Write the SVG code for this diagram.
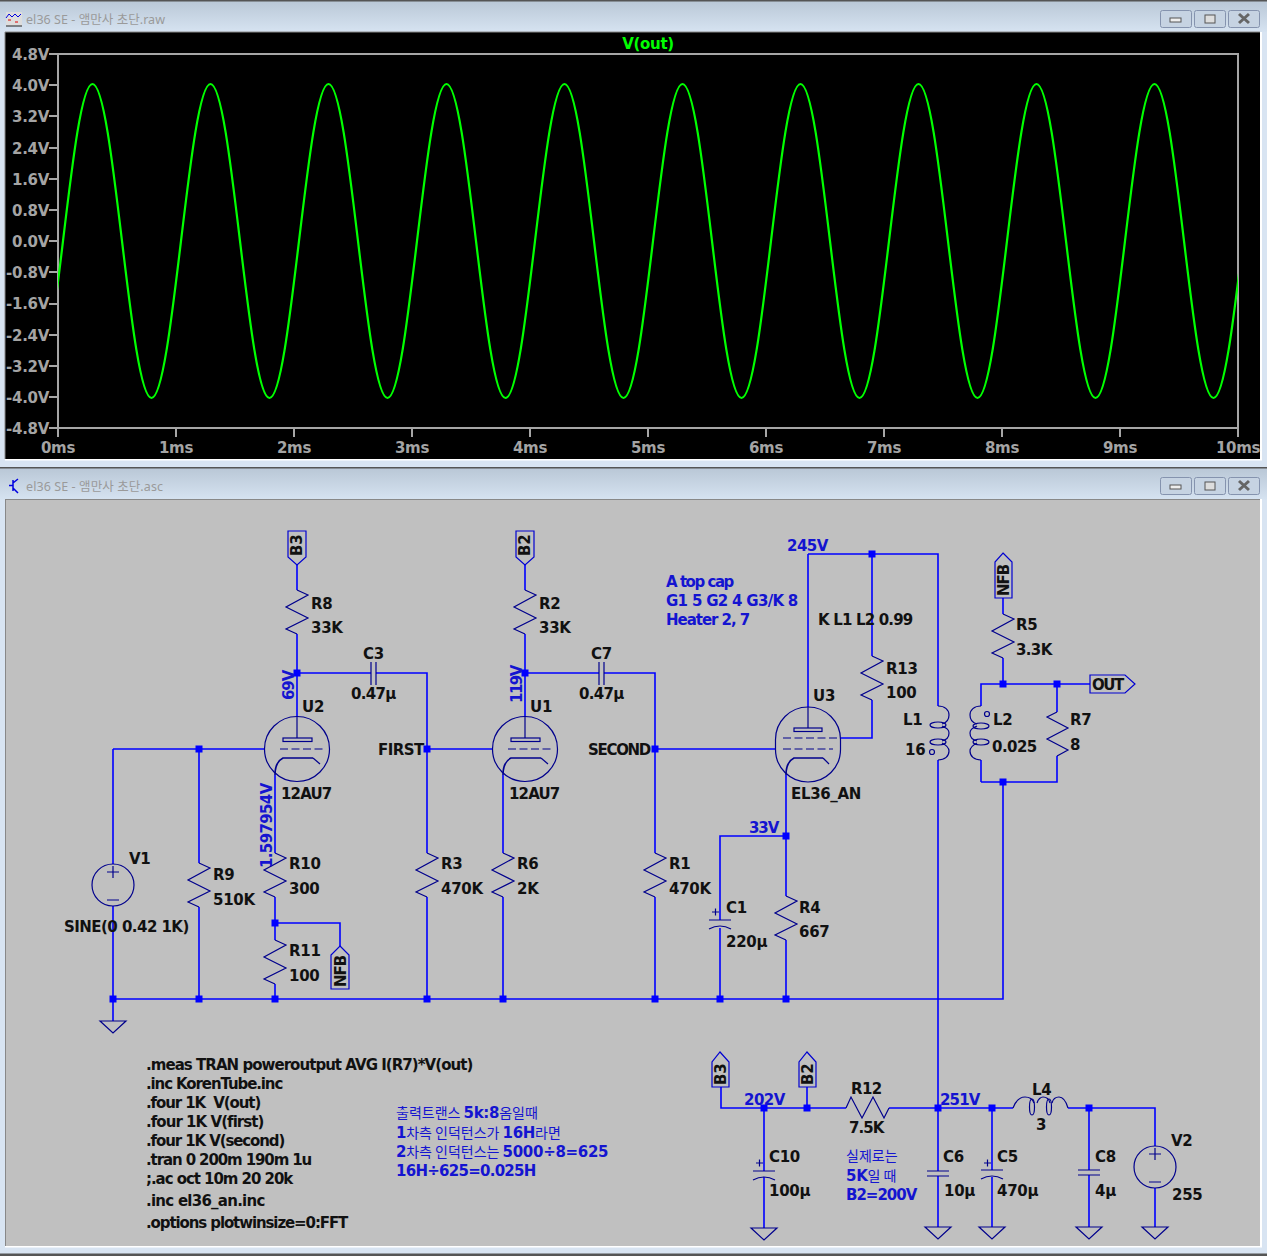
<svg xmlns="http://www.w3.org/2000/svg" width="1267" height="1256" viewBox="0 0 1267 1256">
<style>
text{font-family:"DejaVu Sans","Noto Sans CJK KR",sans-serif;font-weight:bold;font-size:15px;letter-spacing:-.3px;fill:#111;white-space:pre}
.ax{font-size:15px;fill:#a4a4a4}
.axl{text-anchor:end}
.axb{text-anchor:middle}
.ttl{font-family:"Noto Sans","Noto Sans CJK KR",sans-serif;font-weight:normal;font-size:12.5px;letter-spacing:0;fill:#9a9a9a}
.b{fill:#1414d0}
.k{font-family:"Noto Sans CJK KR",sans-serif;font-weight:normal;font-size:14px;letter-spacing:0}
.w{fill:none;stroke:#0000ff;stroke-width:1.6}
.s{fill:none;stroke:#00008c;stroke-width:1.2}
.tag{fill:none;stroke:#0000d0;stroke-width:1.2}
.f{fill:none;stroke:#00008c;stroke-width:1.6}
.d{stroke-dasharray:8 3.5}
.j{fill:#0000ff}
.grid{fill:none;stroke:#a6a6a6;stroke-width:2}
.btn{fill:#c6d3e2;stroke:#8593ae;stroke-width:1}
</style>
<defs>
<linearGradient id="bar" x1="0" y1="0" x2="0" y2="1"><stop offset="0" stop-color="#b9c7d6"/><stop offset="1" stop-color="#d6e3f1"/></linearGradient>
<clipPath id="plotclip"><rect x="58" y="54" width="1180" height="374"/></clipPath>
<path id="r" class="s" d="M0,0 L11,5 L-11,17 L11,28 L-11,39 L0,44"/>
<path id="rm" class="s" d="M0,0 L-10,5 L11,16 L-10,27 L11,38 L0,44"/>
<path id="gnd" class="s" d="M-13,0 H13 L0,12 Z"/>
<path id="pcap" class="s" d="M-11,0 H11 M-11,9 Q0,3 11,9"/>
<path id="cap" class="s" d="M-11,0 H11 M-11,5 H11"/>
<g id="src"><circle class="s" r="21"/><path class="s" d="M-6,-13 H6 M0,-19 V-7 M-6,15 H6"/></g>
<g id="tube"><circle class="s" r="32.500"/><rect class="s" x="-14" y="-11" width="29" height="3.500"/><path class="s d" d="M-17,0 H26"/><path class="s" d="M0,-32 V-11"/><path class="f" d="M-22,26 Q-22,13 -14,9 H16"/><path class="s" d="M16,9 L23,15"/></g>
<rect id="jn" class="j" x="-3.500" y="-3.500" width="7" height="7"/>
</defs>

<rect width="1267" height="1256" fill="#d8e4f2"/>
<rect width="1267" height="32" fill="url(#bar)"/>
<rect y="0" width="1267" height="1.500" fill="#555"/>
<rect y="468" width="1267" height="32" fill="url(#bar)"/>
<rect y="467" width="1267" height="1.500" fill="#555"/>
<rect y="1253.500" width="1267" height="2.500" fill="#555"/>

<g id="plot-window">
<text class="ttl" x="26" y="24" textLength="139">el36 SE - 앰만사 초단.raw</text>
<g id="plot-icon"><rect x="6" y="12" width="16" height="14" fill="#ddd"/><path d="M6,18 L9,14 L12,17 L15,14 L18,17 L21,14" fill="none" stroke="#0000e0"/><path d="M8,20 H11 M15,22 H18" stroke="#e00000"/><path d="M6,26 H22" stroke="#222"/></g>
<g id="plot-buttons">
<rect class="btn" x="1160.500" y="10.500" width="31" height="17" rx="2"/><rect x="1170" y="18" width="11" height="4" fill="#eee" stroke="#555"/>
<rect class="btn" x="1194.500" y="10.500" width="31" height="17" rx="2"/><rect x="1205" y="15" width="10" height="8" fill="#ddd" stroke="#555"/>
<rect class="btn" x="1228.500" y="10.500" width="31" height="17" rx="2"/><path d="M1239,14 L1249,23 M1249,14 L1239,23" stroke="#666" stroke-width="3"/>
</g>
<rect x="5" y="32" width="1255" height="427" fill="#000"/>
<path d="M5,32 H1260" stroke="#888" fill="none"/><path d="M5,32 V459" stroke="#888" fill="none"/>
<rect x="5" y="459" width="1257" height="1.500" fill="#fff"/>
<rect x="1260" y="32" width="2" height="428" fill="#fff"/>
<rect class="grid" x="58" y="54" width="1180" height="374"/>
<path class="grid" d="M49,54 H58 M49,85 H58 M49,116 H58 M49,148 H58 M49,179 H58 M49,210 H58 M49,241 H58 M49,272 H58 M49,304 H58 M49,335 H58 M49,366 H58 M49,397 H58 M49,428 H58 M58,428 V437 M176,428 V437 M294,428 V437 M412,428 V437 M530,428 V437 M648,428 V437 M766,428 V437 M884,428 V437 M1002,428 V437 M1120,428 V437 M1238,428 V437"/>
<g id="y-axis-labels">
<text class="ax axl" x="49" y="60">4.8V</text><text class="ax axl" x="49" y="91">4.0V</text><text class="ax axl" x="49" y="122">3.2V</text><text class="ax axl" x="49" y="154">2.4V</text><text class="ax axl" x="49" y="185">1.6V</text><text class="ax axl" x="49" y="216">0.8V</text><text class="ax axl" x="49" y="247">0.0V</text><text class="ax axl" x="49" y="278">-0.8V</text><text class="ax axl" x="49" y="309">-1.6V</text><text class="ax axl" x="49" y="341">-2.4V</text><text class="ax axl" x="49" y="372">-3.2V</text><text class="ax axl" x="49" y="403">-4.0V</text><text class="ax axl" x="49" y="434">-4.8V</text>
</g>
<g id="x-axis-labels">
<text class="ax axb" x="58" y="453">0ms</text><text class="ax axb" x="176" y="453">1ms</text><text class="ax axb" x="294" y="453">2ms</text><text class="ax axb" x="412" y="453">3ms</text><text class="ax axb" x="530" y="453">4ms</text><text class="ax axb" x="648" y="453">5ms</text><text class="ax axb" x="766" y="453">6ms</text><text class="ax axb" x="884" y="453">7ms</text><text class="ax axb" x="1002" y="453">8ms</text><text class="ax axb" x="1120" y="453">9ms</text><text class="ax axb" x="1238" y="453">10ms</text>
</g>
<text x="648" y="49" text-anchor="middle" style="fill:#00ff00">V(out)</text>
<g clip-path="url(#plotclip)">
<path id="trace" fill="none" stroke="#00ff00" stroke-width="2.200" d="M33.500,398
c10.68,0 19.88,-76.57 29.5,-157 c9.62,-80.43 18.82,-157 29.5,-157 c10.68,0 19.88,76.57 29.5,157 c9.62,80.43 18.82,157 29.5,157
c10.68,0 19.88,-76.57 29.5,-157 c9.62,-80.43 18.82,-157 29.5,-157 c10.68,0 19.88,76.57 29.5,157 c9.62,80.43 18.82,157 29.5,157
c10.68,0 19.88,-76.57 29.5,-157 c9.62,-80.43 18.82,-157 29.5,-157 c10.68,0 19.88,76.57 29.5,157 c9.62,80.43 18.82,157 29.5,157
c10.68,0 19.88,-76.57 29.5,-157 c9.62,-80.43 18.82,-157 29.5,-157 c10.68,0 19.88,76.57 29.5,157 c9.62,80.43 18.82,157 29.5,157
c10.68,0 19.88,-76.57 29.5,-157 c9.62,-80.43 18.82,-157 29.5,-157 c10.68,0 19.88,76.57 29.5,157 c9.62,80.43 18.82,157 29.5,157
c10.68,0 19.88,-76.57 29.5,-157 c9.62,-80.43 18.82,-157 29.5,-157 c10.68,0 19.88,76.57 29.5,157 c9.62,80.43 18.82,157 29.5,157
c10.68,0 19.88,-76.57 29.5,-157 c9.62,-80.43 18.82,-157 29.5,-157 c10.68,0 19.88,76.57 29.5,157 c9.62,80.43 18.82,157 29.5,157
c10.68,0 19.88,-76.57 29.5,-157 c9.62,-80.43 18.82,-157 29.5,-157 c10.68,0 19.88,76.57 29.5,157 c9.62,80.43 18.82,157 29.5,157
c10.68,0 19.88,-76.57 29.5,-157 c9.62,-80.43 18.82,-157 29.5,-157 c10.68,0 19.88,76.57 29.5,157 c9.62,80.43 18.82,157 29.5,157
c10.68,0 19.88,-76.57 29.5,-157 c9.62,-80.43 18.82,-157 29.5,-157 c10.68,0 19.88,76.57 29.5,157 c9.62,80.43 18.82,157 29.5,157
c10.68,0 19.88,-76.57 29.5,-157 c9.62,-80.43 18.82,-157 29.5,-157 c10.68,0 19.88,76.57 29.5,157 c9.62,80.43 18.82,157 29.5,157"/>
</g>
</g>

<g id="schematic-window">
<text class="ttl" x="26" y="491" textLength="137">el36 SE - 앰만사 초단.asc</text>
<path id="asc-icon" d="M13,480 V491 M9,485.500 H13 M13,483 L18,479 M13,488 L18,493" fill="none" stroke="#0000e0" stroke-width="1.500"/>
<g id="asc-buttons">
<rect class="btn" x="1160.500" y="477.500" width="31" height="17" rx="2"/><rect x="1170" y="485" width="11" height="4" fill="#eee" stroke="#555"/>
<rect class="btn" x="1194.500" y="477.500" width="31" height="17" rx="2"/><rect x="1205" y="482" width="10" height="8" fill="#ddd" stroke="#555"/>
<rect class="btn" x="1228.500" y="477.500" width="31" height="17" rx="2"/><path d="M1239,481 L1249,490 M1249,481 L1239,490" stroke="#666" stroke-width="3"/>
</g>
<rect x="5" y="499" width="1255" height="747" fill="#c0c0c0"/>
<path d="M5,499.500 H1260 M5.500,499 V1246" stroke="#888" fill="none"/>
<rect x="5" y="1246" width="1257" height="1.500" fill="#fff"/>
<rect x="1260" y="499" width="2" height="748" fill="#fff"/>
</g>

<g id="connectors">
<path class="w" d="M297,565 V590 M297,634 V717 M297,673 H371 M376,673 H427 V853 M427,897 V999"/>
<path class="w" d="M113,749 H264 M113,749 V864 M113,906 V1021 M199,749 V863 M199,907 V999"/>
<path class="w" d="M275,775 V853 M275,897 V940 M275,984 V999 M275,923 H340 V946"/>
<path class="w" d="M427,749 H492 M525,565 V590 M525,634 V717 M525,673 H599 M604,673 H655 V853 M655,897 V999 M655,749 H775"/>
<path class="w" d="M503,775 V853 M503,897 V999"/>
<path class="w" d="M113,999 H1003 V782 M981,782 H1057 V756 M981,782 V760 M981,706 V684 H1090 M1003,658 V684 M1003,598 V614 M1057,684 V712"/>
<path class="w" d="M808,554 H938 V706 M938,760 V1108 M808,554 V707 M872,554 V656 M872,700 V738 H841"/>
<path class="w" d="M786,775 V896 M786,940 V999 M786,836 H720 V920 M720,928 V999"/>
<path class="w" d="M721,1087 V1108 H846 M807,1087 V1108 M889,1108 H1013 M1068,1108 H1155 V1146 M1155,1188 V1227"/>
<path class="w" d="M764,1108 V1171 M764,1177 V1228 M938,1108 V1171 M938,1176 V1227 M992,1108 V1170 M992,1177 V1227 M1089,1108 V1170 M1089,1175 V1227"/>
<g id="junctions">
<use href="#jn" x="297" y="673"/><use href="#jn" x="525" y="673"/><use href="#jn" x="199" y="749"/><use href="#jn" x="427" y="749"/><use href="#jn" x="655" y="749"/>
<use href="#jn" x="275" y="923"/><use href="#jn" x="113" y="999"/><use href="#jn" x="199" y="999"/><use href="#jn" x="275" y="999"/><use href="#jn" x="427" y="999"/><use href="#jn" x="503" y="999"/><use href="#jn" x="655" y="999"/><use href="#jn" x="720" y="999"/><use href="#jn" x="786" y="999"/>
<use href="#jn" x="786" y="836"/><use href="#jn" x="872" y="554"/><use href="#jn" x="1003" y="684"/><use href="#jn" x="1057" y="684"/><use href="#jn" x="1003" y="782"/>
<use href="#jn" x="764" y="1108"/><use href="#jn" x="807" y="1108"/><use href="#jn" x="938" y="1108"/><use href="#jn" x="992" y="1108"/><use href="#jn" x="1089" y="1108"/>
</g>
</g>

<g id="tag-B3-top"><path class="tag" d="M288,531 H306 V557 L297,565 L288,557 Z"/><text transform="translate(302,556) rotate(-90)">B3</text></g>
<g id="tag-B2-top"><path class="tag" d="M516,531 H534 V557 L525,565 L516,557 Z"/><text transform="translate(530,556) rotate(-90)">B2</text></g>
<g id="tag-NFB-top"><path class="tag" d="M1003,553 L1012,562 V598 H995 V562 Z"/><text transform="translate(1009,596) rotate(-90)" textLength="32">NFB</text></g>
<g id="tag-NFB-low"><path class="tag" d="M340,946 L349,955 V989 H331 V955 Z"/><text transform="translate(346,987) rotate(-90)" textLength="32">NFB</text></g>
<g id="tag-B3-low"><path class="tag" d="M720,1052 L729,1062 V1087 H712 V1062 Z"/><text transform="translate(726,1085) rotate(-90)">B3</text></g>
<g id="tag-B2-low"><path class="tag" d="M807,1052 L816,1062 V1087 H799 V1062 Z"/><text transform="translate(813,1085) rotate(-90)">B2</text></g>
<g id="tag-OUT"><path class="tag" d="M1090,675 H1125 L1135,684 L1125,693 H1090 Z"/><text x="1092" y="690" textLength="32">OUT</text></g>

<g id="R8"><use href="#r" x="297" y="590"/><text x="311" y="609">R8</text><text x="311" y="633">33K</text></g>
<g id="R2"><use href="#r" x="525" y="590"/><text x="539" y="609">R2</text><text x="539" y="633">33K</text></g>
<g id="C3"><path class="s" d="M371,662 V685 M376,662 V685"/><text x="363" y="659">C3</text><text x="351" y="699" textLength="45">0.47µ</text></g>
<g id="C7"><path class="s" d="M599,662 V685 M604,662 V685"/><text x="591" y="659">C7</text><text x="579" y="699" textLength="45">0.47µ</text></g>
<g id="U2"><use href="#tube" x="297" y="749"/><text x="302" y="712">U2</text><text x="281" y="799" textLength="51">12AU7</text></g>
<g id="U1"><use href="#tube" x="525" y="749"/><text x="530" y="712">U1</text><text x="509" y="799" textLength="51">12AU7</text></g>
<g id="U3"><rect class="s" x="775.500" y="707" width="65" height="75" rx="32.500" ry="32.500"/><rect class="s" x="794" y="728" width="28" height="3.500"/><path class="s" d="M808,707 V728"/><path class="s d" d="M783,738 H841 M783,749 H833"/><path class="f" d="M786,775 Q786,762 794,758 H823"/><path class="s" d="M823,758 L829,764"/><text x="813" y="701">U3</text><text x="791" y="799" textLength="70">EL36_AN</text></g>
<g id="R13"><use href="#r" x="872" y="656"/><text x="886" y="674">R13</text><text x="886" y="698">100</text></g>
<g id="L1"><path class="s" d="M938,706 C945,706 949,710 949,715 C949,720 946,723 942,724 M942,726 C946,728 949,729 949,733 C949,738 946,740 942,741 M942,743 C946,745 949,747 949,751 C949,756 945,760 938,760"/><ellipse class="s" cx="938" cy="725" rx="8" ry="3"/><ellipse class="s" cx="938" cy="742" rx="8" ry="3"/><circle class="s" cx="932" cy="752" r="2.500"/><text x="903" y="725">L1</text><text x="905" y="755">16</text></g>
<g id="L2"><path class="s" d="M981,706 C974,706 970,710 970,715 C970,720 973,723 977,724 M977,726 C973,728 970,729 970,733 C970,738 973,740 977,741 M977,743 C973,745 970,747 970,751 C970,756 974,760 981,760"/><ellipse class="s" cx="981" cy="726" rx="8" ry="3"/><ellipse class="s" cx="981" cy="742" rx="8" ry="3"/><circle class="s" cx="987" cy="714" r="2.500"/><text x="993" y="725">L2</text><text x="992" y="752" textLength="45">0.025</text></g>
<g id="R5"><use href="#r" x="1003" y="614"/><text x="1016" y="630">R5</text><text x="1016" y="655" textLength="36">3.3K</text></g>
<g id="R7"><use href="#rm" x="1057" y="712"/><text x="1070" y="725">R7</text><text x="1070" y="750">8</text></g>
<g id="V1"><use href="#src" x="113" y="885"/><text x="129" y="864">V1</text><text x="64" y="932" textLength="125">SINE(0 0.42 1K)</text></g>
<g id="gnd1"><use href="#gnd" x="113" y="1021"/></g>
<g id="R9"><use href="#r" x="199" y="863"/><text x="213" y="880">R9</text><text x="213" y="905">510K</text></g>
<g id="R10"><use href="#r" x="275" y="853"/><text x="289" y="869">R10</text><text x="289" y="894">300</text></g>
<g id="R11"><use href="#r" x="275" y="940"/><text x="289" y="956">R11</text><text x="289" y="981">100</text></g>
<g id="R3"><use href="#r" x="427" y="853"/><text x="441" y="869">R3</text><text x="441" y="894">470K</text></g>
<g id="R6"><use href="#r" x="503" y="853"/><text x="517" y="869">R6</text><text x="517" y="894">2K</text></g>
<g id="R1"><use href="#r" x="655" y="853"/><text x="669" y="869">R1</text><text x="669" y="894">470K</text></g>
<g id="C1"><use href="#pcap" x="720" y="920"/><path class="s" d="M712,912 H719 M715.500,908.500 V915.500"/><text x="726" y="913">C1</text><text x="726" y="947">220µ</text></g>
<g id="R4"><use href="#r" x="786" y="896"/><text x="799" y="913">R4</text><text x="799" y="937">667</text></g>
<g id="R12"><path class="s" d="M846,1108 L851,1097 L862,1118 L873,1097 L884,1118 L889,1108"/><text x="851" y="1094" textLength="31">R12</text><text x="849" y="1133" textLength="35">7.5K</text></g>
<g id="C10"><use href="#pcap" x="764" y="1171"/><path class="s" d="M756,1163 H763 M759.500,1159.500 V1166.500"/><text x="769" y="1162">C10</text><text x="769" y="1196">100µ</text><use href="#gnd" x="764" y="1228"/></g>
<g id="C6"><use href="#cap" x="938" y="1171"/><text x="943" y="1162">C6</text><text x="944" y="1196">10µ</text><use href="#gnd" x="938" y="1227"/></g>
<g id="C5"><use href="#pcap" x="992" y="1170"/><path class="s" d="M984,1163 H991 M987.500,1159.500 V1166.500"/><text x="997" y="1162">C5</text><text x="997" y="1196">470µ</text><use href="#gnd" x="992" y="1227"/></g>
<g id="C8"><use href="#cap" x="1089" y="1170"/><text x="1095" y="1162">C8</text><text x="1095" y="1196">4µ</text><use href="#gnd" x="1089" y="1227"/></g>
<g id="L4"><path class="s" d="M1013,1108 C1016,1100 1020,1097 1025,1097 C1030,1097 1033,1100 1034,1103 M1037,1103 C1038,1099 1041,1097 1043,1097 C1046,1097 1049,1099 1050,1103 M1052,1103 C1053,1099 1056,1097 1059,1097 C1063,1097 1066,1101 1068,1108"/><ellipse class="s" cx="1032" cy="1107" rx="2.500" ry="8"/><ellipse class="s" cx="1049" cy="1107" rx="2.500" ry="8"/><text x="1032" y="1095">L4</text><text x="1036" y="1130">3</text></g>
<g id="V2"><use href="#src" x="1155" y="1167"/><text x="1171" y="1146">V2</text><text x="1172" y="1200">255</text><use href="#gnd" x="1155" y="1227"/></g>

<g id="net-labels">
<text class="b" transform="translate(294,700) rotate(-90)" textLength="30">69V</text>
<text class="b" transform="translate(522,703) rotate(-90)" textLength="38">119V</text>
<text class="b" transform="translate(272,868) rotate(-90)" textLength="85">1.597954V</text>
<text x="378" y="755" textLength="46">FIRST</text>
<text x="588" y="755" textLength="63">SECOND</text>
<text class="b" x="787" y="551" textLength="41">245V</text>
<text class="b" x="749" y="833" textLength="30">33V</text>
<text class="b" x="744" y="1105" textLength="41">202V</text>
<text class="b" x="940" y="1105" textLength="40">251V</text>
<text x="818" y="625" textLength="95">K L1 L2 0.99</text>
</g>
<g id="notes">
<text class="b" x="666" y="587" textLength="68">A top cap</text>
<text class="b" x="666" y="606" textLength="132">G1 5 G2 4 G3/K 8</text>
<text class="b" x="666" y="625" textLength="84">Heater 2, 7</text>
<text x="146" y="1070" textLength="327">.meas TRAN poweroutput AVG I(R7)*V(out)</text>
<text x="146" y="1089" textLength="137">.inc KorenTube.inc</text>
<text x="146" y="1108" textLength="115">.four 1K  V(out)</text>
<text x="146" y="1127" textLength="118">.four 1K V(first)</text>
<text x="146" y="1146" textLength="139">.four 1K V(second)</text>
<text x="146" y="1165" textLength="166">.tran 0 200m 190m 1u</text>
<text x="146" y="1184" textLength="147">;.ac oct 10m 20 20k</text>
<text x="146" y="1206" textLength="119">.inc el36_an.inc</text>
<text x="146" y="1228" textLength="202">.options plotwinsize=0:FFT</text>
<text class="b" x="396" y="1118"><tspan class="b k">출력트랜스 </tspan>5k:8<tspan class="b k">옴일때</tspan></text>
<text class="b" x="396" y="1138">1<tspan class="b k">차측 인덕턴스가 </tspan>16H<tspan class="b k">라면</tspan></text>
<text class="b" x="396" y="1157">2<tspan class="b k">차측 인덕턴스는 </tspan>5000÷8=625</text>
<text class="b" x="396" y="1176" textLength="140">16H÷625=0.025H</text>
<text class="b k" x="846" y="1161">실제로는</text>
<text class="b" x="846" y="1181">5K<tspan class="b k">일 때</tspan></text>
<text class="b" x="846" y="1200" textLength="71">B2=200V</text>
</g>
</svg>
